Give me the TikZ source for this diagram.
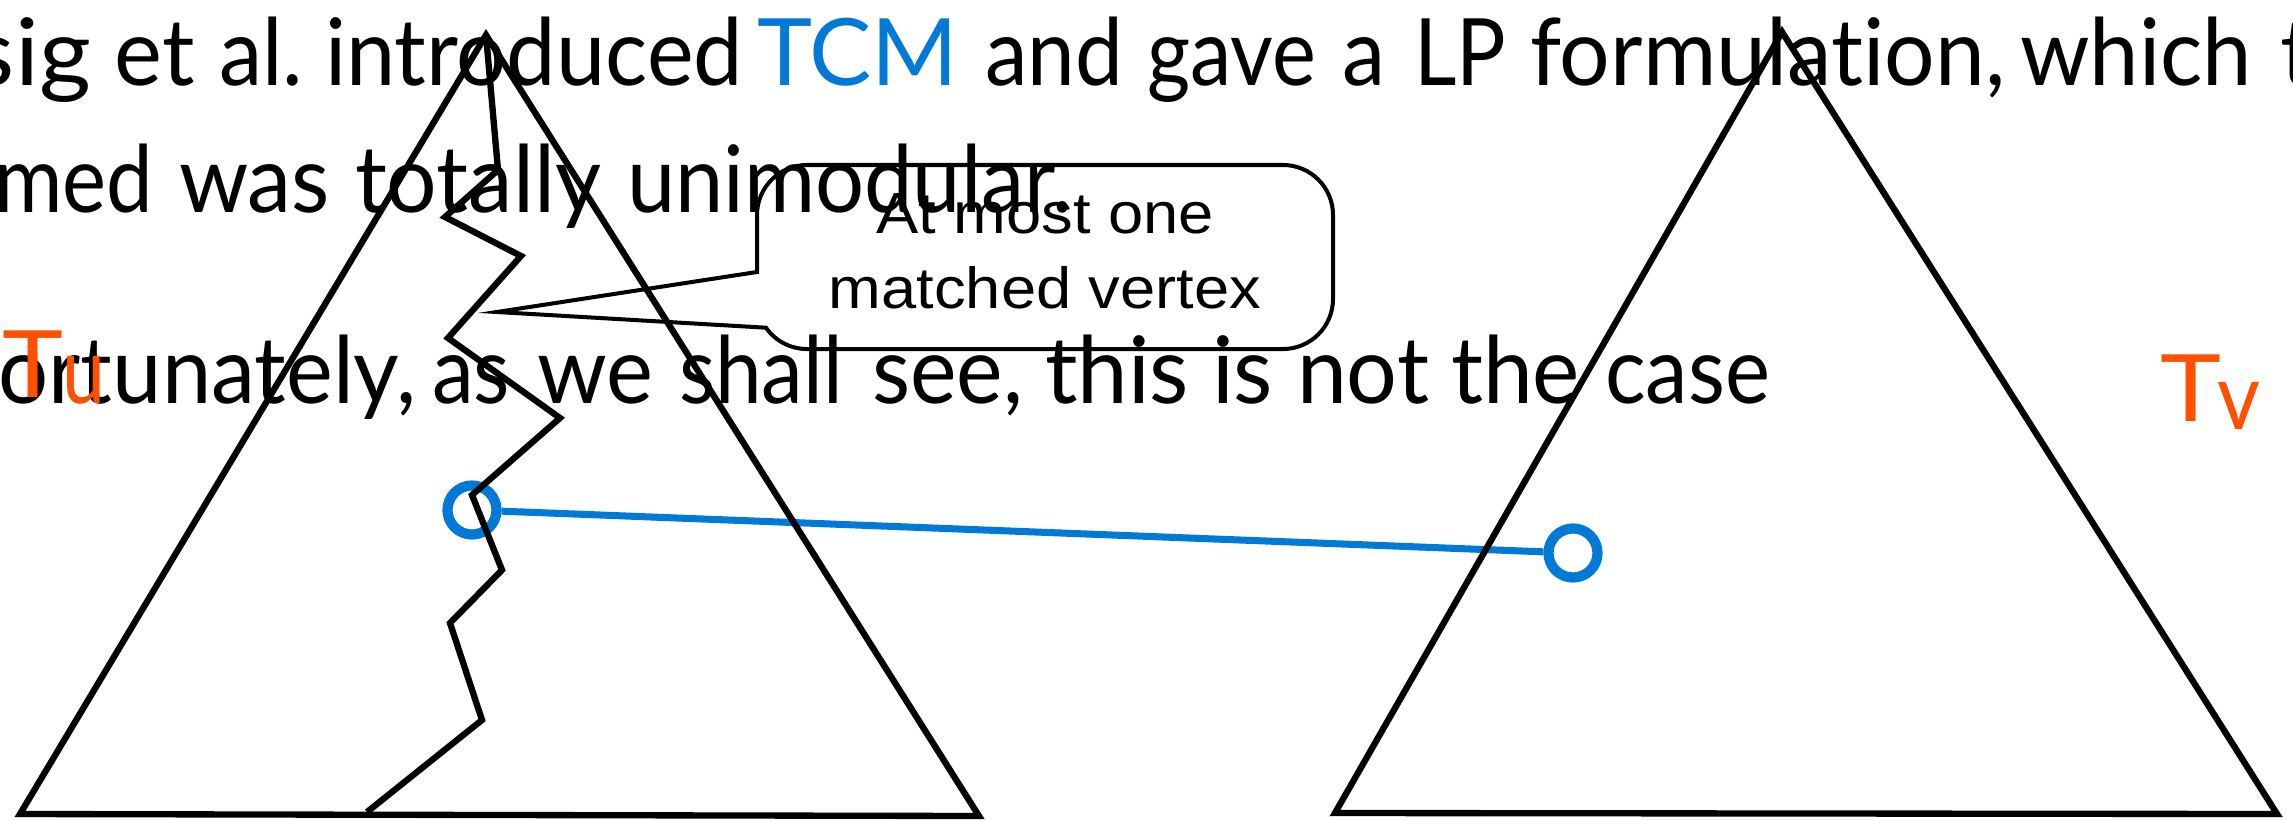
\documentclass[tikz,border=0pt]{standalone}
\usepackage{fontspec}
\setmainfont{Lato}[Ligatures={NoCommon}]
\newfontfamily\calloutfont{Liberation Sans}
\usepackage{graphicx}
\definecolor{tcmblue}{RGB}{0,122,214}
\definecolor{torange}{RGB}{255,80,0}
\tikzset{
  wordsty/.style={inner sep=0pt, outer sep=0pt, anchor=base west,
    font=\fontsize{26.46pt}{30pt}\selectfont},
  callsty/.style={draw=black, line width=1.14pt, line join=miter},
  calltext/.style={inner sep=0pt, anchor=base,
    font=\calloutfont\fontsize{16.5pt}{20pt}\selectfont},
  tri/.style={draw=black, line width=1.8pt},
  vtx/.style={circle, draw=tcmblue, line width=2.9pt, minimum size=0.49cm, inner sep=0pt},
  match/.style={draw=tcmblue, line width=2pt}
}
% name, left x, ink width, baseline Y, colour, text
\newcommand{\wordat}[6]{%
  \node[wordsty, text=#5] (#1) at (#2-3,#4)
    {\resizebox{\dimexpr 0.01cm*\numexpr #3+6\relax\relax}{\height}{#6}};}
\begin{document}
\begin{tikzpicture}[x=0.01cm, y=0.01cm]
\useasboundingbox (0,0) rectangle (2293,820);
\clip (0,0) rectangle (2293,820);
% line 1
\wordat{la}{-25}{113}{735}{black}{sig}
\wordat{lb}{118}{74}{735}{black}{et}
\wordat{lc}{222}{78}{735}{black}{al.}
\wordat{ld}{328}{412}{735}{black}{introduced}
\wordat{le}{760}{195}{735}{tcmblue}{TCM}
\wordat{lf}{988}{132}{735}{black}{and}
\wordat{lg}{1150}{163}{735}{black}{gave}
\wordat{lh}{1345}{37}{735}{black}{a}
\wordat{li}{1417}{86}{735}{black}{LP}
\wordat{lj}{1533}{469}{735}{black}{formulat\kern0pt ion,}
\wordat{lk}{2023}{226}{735}{black}{which}
\wordat{ll}{2283}{28}{735}{black}{t}
% line 2
\wordat{ma}{-3}{153}{608}{black}{med}
\wordat{mb}{182}{145}{608}{black}{was}
\wordat{mc}{358}{240}{608}{black}{totally}
\wordat{md}{630}{440}{608}{black}{unimodular.}
% line 3
\wordat{na}{-28}{441}{417}{black}{fortunately,}
\wordat{nb}{435}{72}{417}{black}{as}
\wordat{nc}{540}{110}{417}{black}{we}
\wordat{nd}{682}{158}{417}{black}{shall}
\wordat{ne}{875}{145}{417}{black}{see,}
\wordat{nf}{1048}{138}{417}{black}{this}
\wordat{ng}{1215}{55}{417}{black}{is}
\wordat{nh}{1300}{126}{417}{black}{not}
\wordat{ni}{1454}{123}{417}{black}{the}
\wordat{nj}{1608}{159}{417}{black}{case}
% tree labels
\wordat{tuT}{5}{55}{423}{torange}{T}
\wordat{tuu}{65}{37}{417}{torange}{u}
\wordat{tvT}{2163}{55}{399}{torange}{T}
\wordat{tvv}{2220}{37}{391}{torange}{v}
% callout
\coordinate (tip) at (497,508);
\draw[callsty] (757,548) -- (tip) -- (766.0,492.3)
  arc[start angle=215, end angle=270, radius=50] -- (1283,471)
  arc[start angle=270, end angle=360, radius=50] -- (1333,605)
  arc[start angle=0, end angle=90, radius=50] -- (807,655)
  arc[start angle=90, end angle=180, radius=50] -- cycle;
\node[calltext] (c1) at (1045,587) {\scalebox{1.09}[1]{At most one}};
\node[calltext] (c2) at (1045,512) {\scalebox{1.09}[1]{matched vertex}};
% matched pair
\node[vtx] (u) at (472,310) {};
\node[vtx] (v) at (1573,267) {};
\draw[match] (u) -- (v);
% triangles
\draw[tri] (486,785) -- (20,6) -- (979,4) -- cycle;
\draw[tri] (1782,788) -- (1335,7) -- (2277,6) -- cycle;
% cut through Tu
\draw[tri] (486,785) -- (498,650) -- (445,603) -- (521,564) -- (448,482)
  -- (560,402) -- (472,325) -- (502,250) -- (450,197) -- (482,100) -- (367,8);
\end{tikzpicture}
\end{document}
